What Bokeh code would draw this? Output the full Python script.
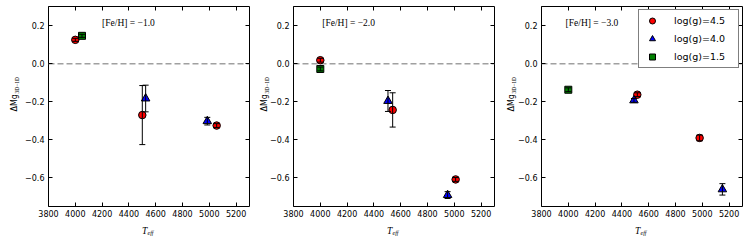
import math
from bokeh.plotting import figure
from bokeh.layouts import row
from bokeh.models import (Range1d, FixedTicker, LinearAxis, Span, Label,
                          Whisker, TeeHead, ColumnDataSource)
from bokeh.embed import file_html
from bokeh.resources import INLINE

# ---------------- data ----------------
panel_labels = ["[Fe/H] = \u22121.0", "[Fe/H] = \u22122.0", "[Fe/H] = \u22123.0"]
panel_label_x = [4200, 4015, 3980]
panel_label_y = [0.213, 0.213, 0.213]

xticks = [3800, 4000, 4200, 4400, 4600, 4800, 5000, 5200]
xtick_labels = ["3800", "4000", "4200", "4400", "4600", "4800", "5000", "5200"]
yticks = [-0.6, -0.4, -0.2, 0.0, 0.2]
ytick_labels = ["\u22120.6", "\u22120.4", "\u22120.2", "0.0", "0.2"]

legend_labels = ["log(g)=4.5", "log(g)=4.0", "log(g)=1.5"]

# log(g)=4.5 (red circles), per panel
teff_45 = [[4000, 4500, 5055], [4000, 4540, 5010], [4515, 4980]]
dmg_45 = [[0.125, -0.27, -0.325], [0.018, -0.243, -0.608], [-0.163, -0.39]]
err_45 = [[0.008, 0.155, 0.01], [0.01, 0.09, 0.01], [0.01, 0.015]]

# log(g)=4.0 (blue triangles)
teff_40 = [[4525, 4985], [4505, 4950], [4490, 5150]]
dmg_40 = [[-0.183, -0.302], [-0.196, -0.69], [-0.193, -0.66]]
err_40 = [[0.07, 0.02], [0.055, 0.018], [0.01, 0.03]]

# log(g)=1.5 (green squares)
teff_15 = [[4050], [4000], [4000]]
dmg_15 = [[0.146], [-0.028], [-0.137]]
err_15 = [[0.008], [0.01], [0.01]]

series = [
    (teff_45, dmg_45, err_45, "circle", "#ff0000", 7.5),
    (teff_40, dmg_40, err_40, "triangle", "#0000ff", 8.5),
    (teff_15, dmg_15, err_15, "square", "#008000", 7),
]

# ---------------- layout ----------------
X0, X1 = 3800, 5300
Y0, Y1 = -0.75, 0.3
FRAME_W = 201
FRAME_H = 200
left_borders = [48, 43, 46]
ylabel_dx = [-34.5, -29.5, -30.5]

XPX = (X1 - X0) / FRAME_W   # data units per pixel
YPX = (Y1 - Y0) / FRAME_H


def make_panel(i):
    p = figure(frame_width=FRAME_W, frame_height=FRAME_H,
               x_range=Range1d(X0, X1), y_range=Range1d(Y0, Y1),
               output_backend="svg", toolbar_location=None,
               min_border_left=left_borders[i], min_border_right=1,
               min_border_top=6, min_border_bottom=30,
               background_fill_color="white", border_fill_color="white")
    p.grid.visible = False
    p.outline_line_color = "black"
    p.outline_line_width = 1
    p.outline_line_alpha = 1

    p.xaxis.ticker = FixedTicker(ticks=xticks)
    p.yaxis.ticker = FixedTicker(ticks=yticks)
    p.xaxis.major_label_overrides = dict(zip(xticks, xtick_labels))
    p.yaxis.major_label_overrides = dict(zip(yticks, ytick_labels))
    for ax in (p.xaxis, p.yaxis):
        ax.axis_line_color = None
        ax.major_tick_in = 4
        ax.major_tick_out = 0
        ax.major_tick_line_color = "black"
        ax.minor_tick_line_color = None
        ax.major_label_text_font = "DejaVu Sans"
        ax.major_label_text_font_size = "8px"
        ax.major_label_text_color = "black"
    p.xaxis.major_label_standoff = 3
    p.yaxis.major_label_standoff = 4

    # ticks on top and right (no labels)
    for loc, ticks in (("above", xticks), ("right", yticks)):
        ax = LinearAxis(ticker=FixedTicker(ticks=ticks),
                        axis_line_color=None, major_tick_in=4, major_tick_out=0,
                        major_tick_line_color="black",
                        minor_tick_line_color=None,
                        major_label_text_font_size="0px",
                        major_label_standoff=0,
                        major_label_overrides={t: "" for t in ticks})
        p.add_layout(ax, loc)

    p.add_layout(Span(location=0, dimension="width", line_color="#a0a0a0",
                      line_dash="6 3", line_width=1.5, level="underlay"))

    for k, (tx, dy, er, marker, color, size) in enumerate(series):
        xs, ys, es = tx[i], dy[i], er[i]
        kw = {}
        if i == 2:
            kw["legend_label"] = legend_labels[k]
        p.scatter(xs, ys, marker=marker, size=size, fill_color=color,
                  line_color="black", line_width=1, **kw)
        src = ColumnDataSource(dict(
            x=xs,
            upper=[y + e for y, e in zip(ys, es)],
            lower=[y - e for y, e in zip(ys, es)]))
        w = Whisker(source=src, base="x", upper="upper", lower="lower",
                    dimension="height", line_color="black", line_width=1,
                    upper_head=TeeHead(size=6, line_color="black", line_width=1),
                    lower_head=TeeHead(size=6, line_color="black", line_width=1),
                    level="overlay")
        p.add_layout(w)

    # panel annotation
    p.add_layout(Label(x=panel_label_x[i], y=panel_label_y[i], text=panel_labels[i],
                       text_font="Liberation Serif", text_font_size="9.5px",
                       text_align="left", text_baseline="middle",
                       text_color="black"))

    def lab(side, dx, dy, text, font, size, angle=0.0, style="normal", baseline="middle"):
        p.add_layout(Label(x=X0 + dx * XPX, y=Y0 + dy * YPX, text=text, angle=angle,
                           text_font=font, text_font_size=size, text_font_style=style,
                           text_align="left", text_baseline=baseline,
                           text_color="black"), side)

    # y axis label  ΔMg_{3D-1D}
    lab("left", ylabel_dx[i], 95, "\u0394Mg", "DejaVu Sans", "8px", angle=math.pi / 2)
    lab("left", ylabel_dx[i] + 2.5, 113, "3D\u22121D", "Liberation Serif", "5.5px",
        angle=math.pi / 2)

    # x axis label  T_eff
    lab("below", FRAME_W / 2 - 7, -24.5, "T", "Liberation Serif", "9.5px", style="italic",
        baseline="alphabetic")
    lab("below", FRAME_W / 2 - 1.5, -26.5, "eff", "Liberation Serif", "6px", style="italic",
        baseline="alphabetic")

    if i == 2:
        lg = p.legend[0]
        lg.location = "top_right"
        lg.margin = 3
        lg.padding = 3
        lg.spacing = 3
        lg.glyph_width = 20
        lg.glyph_height = 15
        lg.label_height = 15
        lg.label_width = 61
        lg.label_standoff = 12
        lg.label_text_font = "DejaVu Sans"
        lg.label_text_font_size = "9.5px"
        lg.label_text_color = "black"
        lg.border_line_color = "black"
        lg.border_line_width = 1
        lg.background_fill_color = "white"
        lg.background_fill_alpha = 1
    return p


panels = [make_panel(i) for i in range(3)]
layout = row(*panels, spacing=0)

open("out.html", "w").write(file_html(layout, INLINE))
